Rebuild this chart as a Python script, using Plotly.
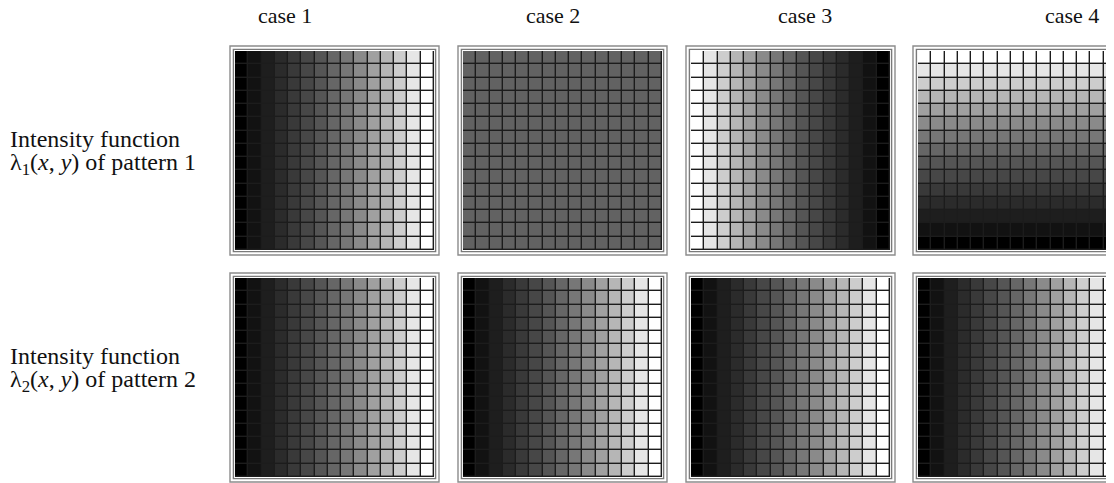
import plotly.graph_objects as go

# the page body has an 8px default margin; the figure is sized to fill the rest
PAGE_OFF = 8
W, H = 1114 - PAGE_OFF, 483 - PAGE_OFF

# ---------------- data ----------------
case_labels = ["case 1", "case 2", "case 3", "case 4"]
row_label_line1 = ["Intensity function", "Intensity function"]
row_label_line2 = [
    "λ<sub>1</sub>(<i>x</i>, <i>y</i>) of pattern 1",
    "λ<sub>2</sub>(<i>x</i>, <i>y</i>) of pattern 2",
]

# grey level (0 = black, 255 = white) of the 15 grid cells along the gradient
ramp_up = [0, 18, 30, 43, 57, 71, 85, 102, 119, 138, 160, 182, 205, 230, 255]
ramp_down = [255, 230, 205, 182, 160, 138, 119, 102, 85, 71, 57, 43, 30, 18, 0]
flat_grey = [98, 98, 98, 98, 98, 98, 98, 98, 98, 98, 98, 98, 98, 98, 98]

# (levels, direction) per panel; direction "x" = varies left→right, "y" = top→bottom
pattern1 = [(ramp_up, "x"), (flat_grey, "x"), (ramp_down, "x"), (ramp_down, "y")]
pattern2 = [(ramp_up, "x"), (ramp_up, "x"), (ramp_up, "x"), (ramp_up, "x")]
patterns = [pattern1, pattern2]

n_cells = 15

# ---------------- layout geometry (page pixels) ----------------
col_x0 = [235, 463, 691, 918]
panel_w = 199
row_y0 = [51, 278]
panel_h = 199
title_x = [285, 553, 805, 1072]
title_y = 16
label_x = 8
label_y = [(139, 164), (356, 381)]

fig = go.Figure()
shapes = []
annotations = []

def px(x):
    return (x - PAGE_OFF) / W

def py(y):
    return 1 - (y - PAGE_OFF) / H

k = 0
for r, pat in enumerate(patterns):
    for c, (levels, direction) in enumerate(pat):
        k += 1
        if direction == "x":
            z = [list(levels) for _ in range(n_cells)]
        else:
            z = [[v] * n_cells for v in levels]
        xa = "x" if k == 1 else f"x{k}"
        ya = "y" if k == 1 else f"y{k}"
        fig.add_trace(go.Heatmap(
            z=z, xaxis=xa, yaxis=ya,
            colorscale=[[0, "#000000"], [1, "#ffffff"]],
            zmin=0, zmax=255, showscale=False,
            xgap=1.4, ygap=1.4, hoverinfo="skip",
        ))
        x0 = col_x0[c]
        x1 = x0 + panel_w
        y0 = row_y0[r]
        y1 = y0 + panel_h
        dom_x1 = min(x1, W + PAGE_OFF)
        vis_cells = (dom_x1 - x0) / panel_w * n_cells
        fig.layout[("xaxis" if k == 1 else f"xaxis{k}")] = dict(
            domain=[px(x0), min(px(dom_x1), 1.0)], range=[-0.5, -0.5 + vis_cells],
            showgrid=False, zeroline=False, showticklabels=False, ticks="",
            anchor=ya, fixedrange=True,
        )
        fig.layout[("yaxis" if k == 1 else f"yaxis{k}")] = dict(
            domain=[py(y1), py(y0)], range=[n_cells - 0.5, -0.5],
            showgrid=False, zeroline=False, showticklabels=False, ticks="",
            anchor=xa, fixedrange=True,
        )
        for off, col in ((5, "#8c8c8c"), (1.6, "#7a7a7a")):
            shapes.append(dict(
                type="rect", xref="paper", yref="paper",
                x0=px(x0 - off), x1=px(x1 + off), y0=py(y1 + off), y1=py(y0 - off),
                line=dict(color=col, width=1.4), fillcolor="rgba(0,0,0,0)", layer="above",
            ))

serif = "Liberation Serif, Times New Roman, serif"
for c, t in enumerate(case_labels):
    annotations.append(dict(
        text=t, x=px(title_x[c]), y=py(title_y), xref="paper", yref="paper",
        xanchor="center", yanchor="middle", showarrow=False,
        font=dict(family=serif, size=22, color="#111111"),
    ))
for r in range(2):
    for txt, yy in ((row_label_line1[r], label_y[r][0]), (row_label_line2[r], label_y[r][1])):
        annotations.append(dict(
            text=txt, x=px(label_x), y=py(yy), xref="paper", yref="paper",
            xanchor="left", yanchor="middle", showarrow=False,
            font=dict(family=serif, size=24, color="#111111"),
        ))

fig.update_layout(
    width=W, height=H, margin=dict(l=0, r=0, t=0, b=0),
    paper_bgcolor="white", plot_bgcolor="#1c1c1c",
    shapes=shapes, annotations=annotations, showlegend=False,
)

fig.write_html("out.html", config={"displayModeBar": False})
